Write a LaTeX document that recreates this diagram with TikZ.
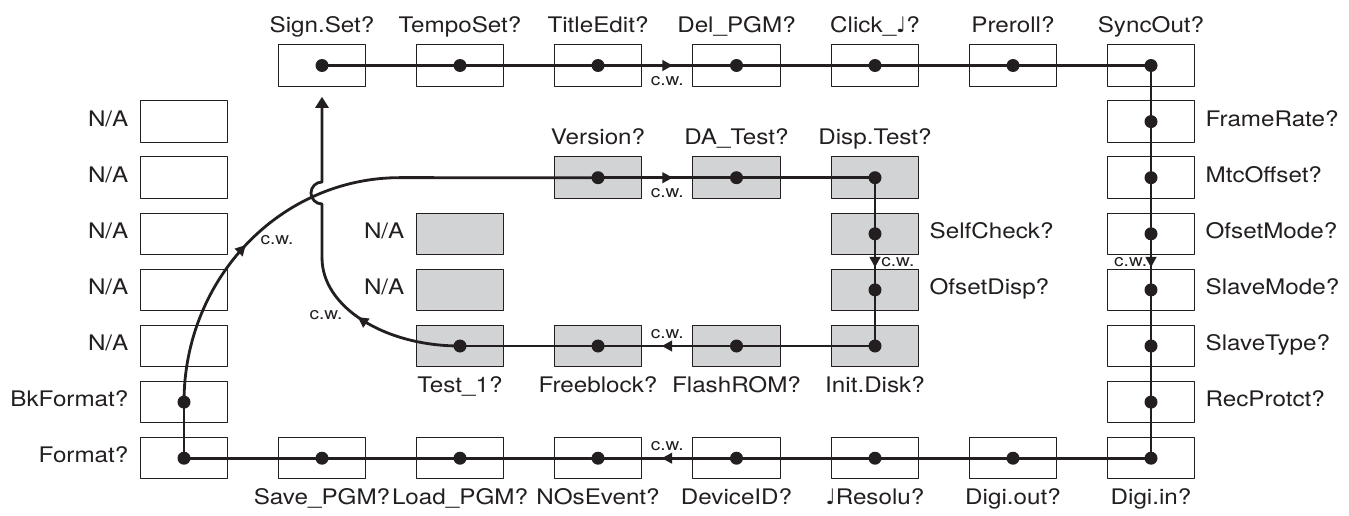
\documentclass[tikz,border=0pt]{standalone}
\usepackage{fontspec}
\setsansfont{TeX Gyre Heros}[FakeStretch=1.13]
\newfontfamily\notefont{DejaVu Sans}
\usetikzlibrary{arrows.meta,positioning,decorations.markings}
\definecolor{ink}{HTML}{231F20}
\definecolor{panel}{HTML}{D1D3D4}
\newcommand{\qnote}{{\notefont\symbol{"2669}}}

\begin{document}
\begin{tikzpicture}[x=0.02cm,y=0.02cm,line cap=round,line join=round,
  font=\sffamily\fontsize{12.2}{14}\selectfont,
  box/.style={draw=ink,line width=0.6pt,minimum width=1.75cm,minimum height=0.83cm,inner sep=0pt},
  graybox/.style={box,fill=panel},
  lbl/.style={text=ink,inner sep=0pt,text height=0.72em,text depth=0.21em},
  wire/.style={ink,line width=1.6pt},
  cw/.style={text=ink,font=\sffamily\fontsize{9.6}{11}\selectfont,inner sep=0pt},
  cwmark/.style={postaction={decorate},decoration={markings,
    mark=at position #1 with {\arrow{Triangle[length=0.21cm,width=0.21cm]}}}}]
  \useasboundingbox (0,0) rectangle (1349,515);

  % Outer ring of menu slots
  \node[box] (sign)      at (322,449.5) {};
  \node[box] (tempo)     at (460,449.5) {};
  \node[box] (title)     at (598,449.5) {};
  \node[box] (delpgm)    at (736.5,449.5) {};
  \node[box] (click)     at (875,449.5) {};
  \node[box] (preroll)   at (1013,449.5) {};
  \node[box] (syncout)   at (1151,449.5) {};
  \node[box] (framerate) at (1151,393.4) {};
  \node[box] (mtcoffset) at (1151,337.3) {};
  \node[box] (ofsetmode) at (1151,281.2) {};
  \node[box] (slavemode) at (1151,225.1) {};
  \node[box] (slavetype) at (1151,169) {};
  \node[box] (recprotct) at (1151,112.9) {};
  \node[box] (digiin)    at (1151,56.8) {};
  \node[box] (digiout)   at (1013,56.8) {};
  \node[box] (resolu)    at (875,56.8) {};
  \node[box] (deviceid)  at (736.5,56.8) {};
  \node[box] (nosevent)  at (598,56.8) {};
  \node[box] (loadpgm)   at (460,56.8) {};
  \node[box] (savepgm)   at (322,56.8) {};
  \node[box] (format)    at (184,56.8) {};
  \node[box] (bkformat)  at (184,112.9) {};
  \node[box] (naone)     at (184,393.4) {};
  \node[box] (natwo)     at (184,337.3) {};
  \node[box] (nathree)   at (184,281.2) {};
  \node[box] (nafour)    at (184,225.1) {};
  \node[box] (nafive)    at (184,169) {};

  % Inner ring, shaded
  \node[graybox] (version)   at (598,337.3) {};
  \node[graybox] (datest)    at (736.5,337.3) {};
  \node[graybox] (disptest)  at (875,337.3) {};
  \node[graybox] (selfcheck) at (875,281.2) {};
  \node[graybox] (ofsetdisp) at (875,225.1) {};
  \node[graybox] (initdisk)  at (875,169) {};
  \node[graybox] (flashrom)  at (736.5,169) {};
  \node[graybox] (freeblock) at (598,169) {};
  \node[graybox] (testone)   at (460,169) {};
  \node[graybox] (nasix)     at (460,281.2) {};
  \node[graybox] (naseven)   at (460,225.1) {};

  % Slot names
  \node[lbl,above=0.16cm of sign]      (sign-t)      {Sign.Set?};
  \node[lbl,above=0.16cm of tempo]     (tempo-t)     {TempoSet?};
  \node[lbl,above=0.16cm of title]     (title-t)     {TitleEdit?};
  \node[lbl,above=0.16cm of delpgm]    (delpgm-t)    {Del\_PGM?};
  \node[lbl,above=0.16cm of click]     (click-t)     {Click\_\qnote?};
  \node[lbl,above=0.16cm of preroll]   (preroll-t)   {Preroll?};
  \node[lbl,above=0.16cm of syncout]   (syncout-t)   {SyncOut?};
  \node[lbl,right=0.2cm of framerate]  (framerate-t) {FrameRate?};
  \node[lbl,right=0.2cm of mtcoffset]  (mtcoffset-t) {MtcOffset?};
  \node[lbl,right=0.2cm of ofsetmode]  (ofsetmode-t) {OfsetMode?};
  \node[lbl,right=0.2cm of slavemode]  (slavemode-t) {SlaveMode?};
  \node[lbl,right=0.2cm of slavetype]  (slavetype-t) {SlaveType?};
  \node[lbl,right=0.2cm of recprotct]  (recprotct-t) {RecProtct?};
  \node[lbl,below=0.25cm of digiin]    (digiin-t)    {Digi.in?};
  \node[lbl,below=0.25cm of digiout]   (digiout-t)   {Digi.out?};
  \node[lbl,below=0.25cm of resolu]    (resolu-t)    {\qnote Resolu?};
  \node[lbl,below=0.25cm of deviceid]  (deviceid-t)  {DeviceID?};
  \node[lbl,below=0.25cm of nosevent]  (nosevent-t)  {NOsEvent?};
  \node[lbl,below=0.25cm of loadpgm]   (loadpgm-t)   {Load\_PGM?};
  \node[lbl,below=0.25cm of savepgm]   (savepgm-t)   {Save\_PGM?};
  \node[lbl,left=0.22cm of format]     (format-t)    {Format?};
  \node[lbl,left=0.22cm of bkformat]   (bkformat-t)  {BkFormat?};
  \node[lbl,left=0.22cm of naone]      (naone-t)     {N/A};
  \node[lbl,left=0.22cm of natwo]      (natwo-t)     {N/A};
  \node[lbl,left=0.22cm of nathree]    (nathree-t)   {N/A};
  \node[lbl,left=0.22cm of nafour]     (nafour-t)    {N/A};
  \node[lbl,left=0.22cm of nafive]     (nafive-t)    {N/A};
  \node[lbl,above=0.16cm of version]   (version-t)   {Version?};
  \node[lbl,above=0.16cm of datest]    (datest-t)    {DA\_Test?};
  \node[lbl,above=0.16cm of disptest]  (disptest-t)  {Disp.Test?};
  \node[lbl,right=0.2cm of selfcheck]  (selfcheck-t) {SelfCheck?};
  \node[lbl,right=0.2cm of ofsetdisp]  (ofsetdisp-t) {OfsetDisp?};
  \node[lbl,below=0.25cm of initdisk]  (initdisk-t)  {Init.Disk?};
  \node[lbl,below=0.25cm of flashrom]  (flashrom-t)  {FlashROM?};
  \node[lbl,below=0.25cm of freeblock] (freeblock-t) {Freeblock?};
  \node[lbl,below=0.25cm of testone]   (testone-t)   {Test\_1?};
  \node[lbl,left=0.22cm of nasix]      (nasix-t)     {N/A};
  \node[lbl,left=0.22cm of naseven]    (naseven-t)   {N/A};

  % Outer loop, clockwise
  \draw[wire] (sign.center) -- (tempo.center) -- (title.center);
  \draw[wire,cwmark=.54] (title.center) -- node[cw,below=2mm] (cw-top) {c.w.} (delpgm.center);
  \draw[wire] (delpgm.center) -- (click.center) -- (preroll.center) -- (syncout.center)
    -- (framerate.center) -- (mtcoffset.center) -- (ofsetmode.center);
  \draw[wire,cwmark=.6] (ofsetmode.center) -- node[cw,left=0.5mm] (cw-right) {c.w.} (slavemode.center);
  \draw[wire] (slavemode.center) -- (slavetype.center) -- (recprotct.center) -- (digiin.center)
    -- (digiout.center) -- (resolu.center) -- (deviceid.center);
  \draw[wire,cwmark=.54] (deviceid.center) -- node[cw,above=1.2mm] (cw-bottom) {c.w.} (nosevent.center);
  \draw[wire] (nosevent.center) -- (loadpgm.center) -- (savepgm.center) -- (format.center) -- (bkformat.center);

  % Into the inner loop and back to the start
  \draw[wire,cwmark=.5] (bkformat.center)
    arc[start angle=180,end angle=90,x radius=4.32cm,y radius=4.49cm] coordinate (turn);
  \node[cw] (cw-up) at (277,275) {c.w.};
  \draw[wire] (turn) -- (version.center);
  \draw[wire,cwmark=.54] (version.center) -- node[cw,below=1.8mm] (cw-intop) {c.w.} (datest.center);
  \draw[wire] (datest.center) -- (disptest.center) -- (selfcheck.center);
  \draw[wire,cwmark=.6] (selfcheck.center) -- node[cw,right=1mm] (cw-inright) {c.w.} (ofsetdisp.center);
  \draw[wire] (ofsetdisp.center) -- (initdisk.center) -- (flashrom.center);
  \draw[wire,cwmark=.54] (flashrom.center) -- node[cw,above=1.2mm] (cw-inbottom) {c.w.} (freeblock.center);
  \draw[wire] (freeblock.center) -- (testone.center);
  \draw[wire,cwmark=.6] (testone.center)
    arc[start angle=270,end angle=180,x radius=2.76cm,y radius=1.76cm] coordinate (rise);
  \node[cw] (cw-back) at (326,200) {c.w.};
  \coordinate (hop) at (322,311);
  \draw[wire,-{Triangle[length=0.22cm,width=0.26cm]},shorten >=0.2cm] (rise) -- (hop)
    arc[start angle=-90,end angle=-270,radius=0.22cm] -- (sign.south);

  % Stops on each menu slot
  \foreach \n in {sign,tempo,title,delpgm,click,preroll,syncout,framerate,mtcoffset,
      ofsetmode,slavemode,slavetype,recprotct,digiin,digiout,resolu,deviceid,nosevent,
      loadpgm,savepgm,format,bkformat,version,datest,disptest,selfcheck,ofsetdisp,
      initdisk,flashrom,freeblock,testone}
    \fill[ink] (\n.center) circle (0.13cm);
\end{tikzpicture}
\end{document}
